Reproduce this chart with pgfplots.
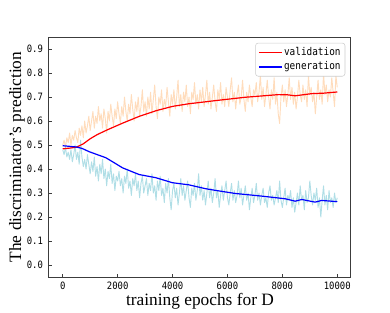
\documentclass[border=0pt]{standalone}
\usepackage{fontspec}
\setmainfont{Liberation Serif}
\newfontfamily\monofont[FakeStretch=0.88]{DejaVu Sans Mono}
\usepackage{pgfplots}
\usepackage{pgfplotstable}
\pgfplotsset{compat=1.18}
\definecolor{peach}{RGB}{255,220,188}
\definecolor{pblue}{RGB}{176,222,230}
\definecolor{spine}{RGB}{60,60,60}

\pgfplotstableread{
x v g
0 0.50 0.48
50 0.52 0.46
100 0.49 0.49
150 0.53 0.45
200 0.51 0.47
250 0.55 0.44
300 0.50 0.48
350 0.54 0.43
400 0.52 0.46
450 0.56 0.50
500 0.53 0.44
550 0.51 0.47
600 0.57 0.42
650 0.54 0.52
700 0.58 0.45
750 0.53 0.41
800 0.60 0.44
850 0.55 0.40
900 0.58 0.46
950 0.62 0.42
1000 0.56 0.38
1050 0.60 0.43
1100 0.64 0.39
1150 0.57 0.45
1200 0.62 0.37
1250 0.59 0.41
1300 0.66 0.35
1350 0.60 0.42
1400 0.63 0.38
1450 0.57 0.44
1500 0.65 0.36
1550 0.61 0.40
1600 0.55 0.33
1650 0.64 0.39
1700 0.60 0.36
1750 0.67 0.42
1800 0.62 0.34
1850 0.58 0.38
1900 0.65 0.31
1950 0.61 0.37
2000 0.68 0.35
2050 0.63 0.39
2100 0.59 0.33
2150 0.66 0.36
2200 0.62 0.30
2250 0.70 0.37
2300 0.64 0.34
2350 0.60 0.40
2400 0.67 0.32
2450 0.63 0.35
2500 0.71 0.29
2550 0.65 0.36
2600 0.60 0.33
2650 0.68 0.38
2700 0.64 0.31
2750 0.70 0.35
2800 0.62 0.28
2850 0.66 0.34
2900 0.73 0.37
2950 0.64 0.30
3000 0.68 0.33
3050 0.62 0.36
3100 0.70 0.29
3150 0.65 0.34
3200 0.72 0.31
3250 0.63 0.38
3300 0.69 0.30
3350 0.75 0.33
3400 0.66 0.27
3450 0.61 0.35
3500 0.70 0.31
3550 0.67 0.37
3600 0.73 0.29
3650 0.64 0.32
3700 0.69 0.26
3750 0.66 0.34
3800 0.74 0.30
3850 0.68 0.36
3900 0.62 0.28
3950 0.71 0.23
4000 0.67 0.31
4050 0.73 0.34
4100 0.65 0.28
4150 0.70 0.32
4200 0.77 0.25
4250 0.66 0.30
4300 0.71 0.36
4350 0.64 0.29
4400 0.72 0.33
4450 0.68 0.27
4500 0.75 0.31
4550 0.66 0.35
4600 0.70 0.28
4650 0.63 0.24
4700 0.72 0.32
4750 0.69 0.29
4800 0.76 0.34
4850 0.67 0.27
4900 0.71 0.31
4950 0.65 0.38
5000 0.73 0.29
5050 0.68 0.33
5100 0.74 0.27
5150 0.66 0.31
5200 0.71 0.25
5250 0.77 0.30
5300 0.67 0.35
5350 0.72 0.28
5400 0.65 0.32
5450 0.70 0.26
5500 0.75 0.30
5550 0.68 0.36
5600 0.64 0.28
5650 0.73 0.31
5700 0.69 0.24
5750 0.76 0.29
5800 0.67 0.33
5850 0.71 0.27
5900 0.66 0.31
5950 0.74 0.35
6000 0.70 0.28
6050 0.66 0.25
6100 0.73 0.30
6150 0.78 0.34
6200 0.68 0.27
6250 0.72 0.31
6300 0.65 0.26
6350 0.71 0.29
6400 0.75 0.35
6450 0.67 0.28
6500 0.70 0.32
6550 0.77 0.25
6600 0.69 0.29
6650 0.64 0.33
6700 0.72 0.27
6750 0.68 0.30
6800 0.75 0.23
6850 0.70 0.28
6900 0.66 0.32
6950 0.73 0.26
7000 0.71 0.29
7050 0.76 0.34
7100 0.68 0.27
7150 0.72 0.30
7200 0.79 0.25
7250 0.69 0.29
7300 0.74 0.32
7350 0.66 0.26
7400 0.71 0.28
7450 0.77 0.24
7500 0.70 0.30
7550 0.65 0.33
7600 0.73 0.27
7650 0.69 0.29
7700 0.78 0.25
7750 0.67 0.28
7800 0.72 0.31
7850 0.63 0.26
7900 0.59 0.35
7950 0.70 0.27
8000 0.75 0.24
8050 0.68 0.28
8100 0.73 0.32
8150 0.66 0.25
8200 0.71 0.29
8250 0.78 0.27
8300 0.69 0.31
8350 0.74 0.24
8400 0.67 0.28
8450 0.72 0.22
8500 0.65 0.26
8550 0.70 0.30
8600 0.77 0.25
8650 0.71 0.33
8700 0.68 0.27
8750 0.75 0.29
8800 0.69 0.23
8850 0.73 0.31
8900 0.66 0.26
8950 0.79 0.28
9000 0.71 0.35
9050 0.74 0.29
9100 0.68 0.25
9150 0.72 0.30
9200 0.63 0.27
9250 0.70 0.32
9300 0.77 0.24
9350 0.69 0.28
9400 0.73 0.20
9450 0.67 0.27
9500 0.80 0.33
9550 0.71 0.25
9600 0.75 0.29
9650 0.68 0.23
9700 0.73 0.31
9750 0.70 0.26
9800 0.78 0.28
9850 0.72 0.24
9900 0.66 0.30
9950 0.79 0.26
10000 0.74 0.28
}\rawdata

\pgfplotstableread{
x y
0 0.484
250 0.487
500 0.491
750 0.505
1000 0.526
1250 0.543
1600 0.562
2200 0.592
2800 0.620
3400 0.643
4000 0.661
4600 0.672
5200 0.680
5560 0.685
6650 0.699
7860 0.710
8200 0.709
8465 0.705
8800 0.710
9070 0.714
9500 0.716
10000 0.721
}\valsmooth

\pgfplotstableread{
x y
0 0.497
485 0.492
700 0.486
966 0.472
1571 0.447
1934 0.422
2177 0.405
2781 0.377
3385 0.364
3990 0.343
4594 0.334
5200 0.318
5562 0.311
6288 0.298
7257 0.287
8102 0.276
8465 0.266
8708 0.273
9190 0.262
9434 0.269
10000 0.264
}\gensmooth

\begin{document}
\begin{tikzpicture}
\useasboundingbox (-36.75pt,-26.25pt) rectangle (255.75pt,207.75pt);
\begin{axis}[
  at={(0pt,0pt)}, anchor=south west,
  scale only axis, width=226.5pt, height=180pt,
  xmin=-500, xmax=10500, ymin=-0.05, ymax=0.95,
  xtick={0,2000,4000,6000,8000,10000},
  ytick={0,0.1,0.2,0.3,0.4,0.5,0.6,0.7,0.8,0.9},
  scaled x ticks=false, scaled y ticks=false,
  xticklabel style={/pgf/number format/1000 sep={}},
  yticklabel style={/pgf/number format/fixed, /pgf/number format/fixed zerofill, /pgf/number format/precision=1, xshift=-1pt},
  /pgf/number format/assume math mode=true,
  ticklabel style={font=\monofont\fontsize{7.6}{9}\selectfont},
  tick align=inside, tick pos=left, major tick length=2pt,
  tick style={spine, line width=0.6pt},
  axis line style={spine, line width=0.75pt},
  xlabel={training epochs for D},
  ylabel={The discriminator’s prediction},
  label style={font=\fontsize{13}{15}\selectfont},
  xlabel style={at={(axis description cs:0.5,-0.1208)}, anchor=base},
  ylabel style={at={(axis description cs:-0.0927,0.5)}, anchor=base},
  legend style={at={(rel axis cs:0.981,0.976)}, anchor=north east,
    draw=black!20, rounded corners=2pt,
    font=\monofont\fontsize{8}{9}\selectfont,
    inner xsep=2pt, inner ysep=2pt, row sep=0.5pt,
    nodes={inner sep=1.3pt}},
  legend cell align=left,
  legend image code/.code={\draw[#1, line width=1.1pt] (0pt,0pt) -- (17pt,0pt);},
]
\addplot[peach, line width=0.7pt, line join=round, forget plot] table[x=x, y=v]{\rawdata};
\addplot[pblue, line width=0.7pt, line join=round, forget plot] table[x=x, y=g]{\rawdata};
\addplot[red, line width=0.9pt] table[x=x, y=y]{\valsmooth};
\addlegendentry{validation}
\addplot[blue, line width=0.9pt] table[x=x, y=y]{\gensmooth};
\addlegendentry{generation}
\end{axis}
\end{tikzpicture}
\end{document}
